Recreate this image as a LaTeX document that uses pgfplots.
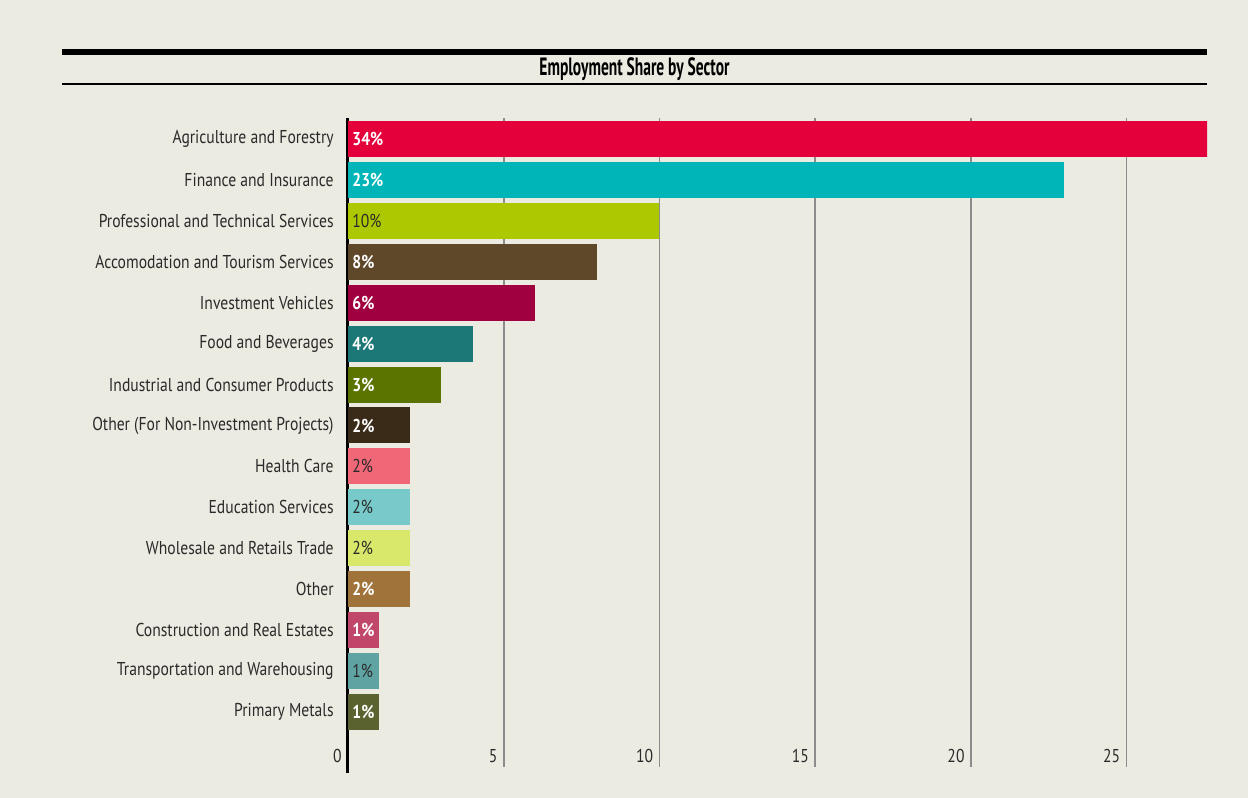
\documentclass[border=0pt]{standalone}
\usepackage{fontspec}
\setmainfont{PT Sans}
\newfontfamily\labfont{PT Sans}[FakeStretch=0.84]
\newfontfamily\titlefont{PT Sans}[FakeStretch=0.62]
\usepackage{pgfplots}
\pgfplotsset{compat=1.18}
\definecolor{bg}{HTML}{ECEBE1}
\definecolor{c1}{HTML}{E4003A}
\definecolor{c2}{HTML}{00B5B8}
\definecolor{c3}{HTML}{AEC800}
\definecolor{c4}{HTML}{5F4729}
\definecolor{c5}{HTML}{A0003F}
\definecolor{c6}{HTML}{1C7877}
\definecolor{c7}{HTML}{5B7400}
\definecolor{c8}{HTML}{3A2A18}
\definecolor{c9}{HTML}{F06878}
\definecolor{c10}{HTML}{78C9CA}
\definecolor{c11}{HTML}{D9E86A}
\definecolor{c12}{HTML}{A0733A}
\definecolor{c13}{HTML}{C0476A}
\definecolor{c14}{HTML}{5FA3A3}
\definecolor{c15}{HTML}{5A6330}
\definecolor{darktext}{HTML}{2A2A2A}
\begin{document}
\begin{tikzpicture}
\fill[bg] (0pt,0pt) rectangle (624pt,399pt);
\draw[line width=3pt] (31pt,373pt) -- (603.5pt,373pt);
\draw[line width=1pt] (31pt,357pt) -- (603.5pt,357pt);
\node[font=\titlefont\bfseries\fontsize{12.5}{14}\selectfont, text=black] at (317.25pt,364.5pt) {Employment Share by Sector};
\begin{axis}[
  at={(174pt,15.5pt)}, anchor=south west,
  scale only axis, width=429.5pt, height=324.5pt,
  xmin=0, xmax=27.58, ymin=-1.344, ymax=14.513,
  axis x line*=bottom, axis y line*=left,
  x axis line style={draw=none},
  y axis line style={black, line width=1.5pt, -, shorten <=-3pt},
  xtick={0,5,10,15,20,25},
  ytick={0,1,...,14},
  yticklabels={Primary Metals,Transportation and Warehousing,Construction and Real Estates,Other,Wholesale and Retails Trade,Education Services,Health Care,Other (For Non-Investment Projects),Industrial and Consumer Products,Food and Beverages,Investment Vehicles,Accomodation and Tourism Services,Professional and Technical Services,Finance and Insurance,Agriculture and Forestry},
  major tick length=0pt,
  xmajorgrids, grid style={color=black!45, line width=0.8pt},
  /pgf/number format/assume math mode=true,
  ticklabel style={font=\labfont\fontsize{9.3}{11}\selectfont, text=darktext},
  xticklabel style={anchor=south east, inner sep=0pt, xshift=-3pt, yshift=2pt},
  yticklabel style={anchor=east, inner sep=0pt, xshift=-7pt},
  every axis plot/.append style={xbar, bar width=0.88, bar shift=0pt, draw=none},
]
\addplot[fill=c1] coordinates {(34,14)};
\addplot[fill=c2] coordinates {(23,13)};
\addplot[fill=c3] coordinates {(10,12)};
\addplot[fill=c4] coordinates {(8,11)};
\addplot[fill=c5] coordinates {(6,10)};
\addplot[fill=c6] coordinates {(4,9)};
\addplot[fill=c7] coordinates {(3,8)};
\addplot[fill=c8] coordinates {(2,7)};
\addplot[fill=c9] coordinates {(2,6)};
\addplot[fill=c10] coordinates {(2,5)};
\addplot[fill=c11] coordinates {(2,4)};
\addplot[fill=c12] coordinates {(2,3)};
\addplot[fill=c13] coordinates {(1,2)};
\addplot[fill=c14] coordinates {(1,1)};
\addplot[fill=c15] coordinates {(1,0)};
% labels, white text
\addplot[fill=none, nodes near coords, point meta=explicit symbolic,
  every node near coord/.append style={anchor=west, inner sep=2pt, text=white, font=\labfont\bfseries\fontsize{9.3}{11}\selectfont}]
  coordinates {(0,14)[34\%] (0,13)[23\%] (0,11)[8\%] (0,10)[6\%] (0,9)[4\%] (0,8)[3\%] (0,7)[2\%] (0,3)[2\%] (0,2)[1\%] (0,0)[1\%]};
% labels, dark text
\addplot[fill=none, nodes near coords, point meta=explicit symbolic,
  every node near coord/.append style={anchor=west, inner sep=2pt, text=darktext, font=\labfont\fontsize{9.3}{11}\selectfont}]
  coordinates {(0,12)[10\%] (0,6)[2\%] (0,5)[2\%] (0,4)[2\%] (0,1)[1\%]};
\end{axis}
\end{tikzpicture}
\end{document}
